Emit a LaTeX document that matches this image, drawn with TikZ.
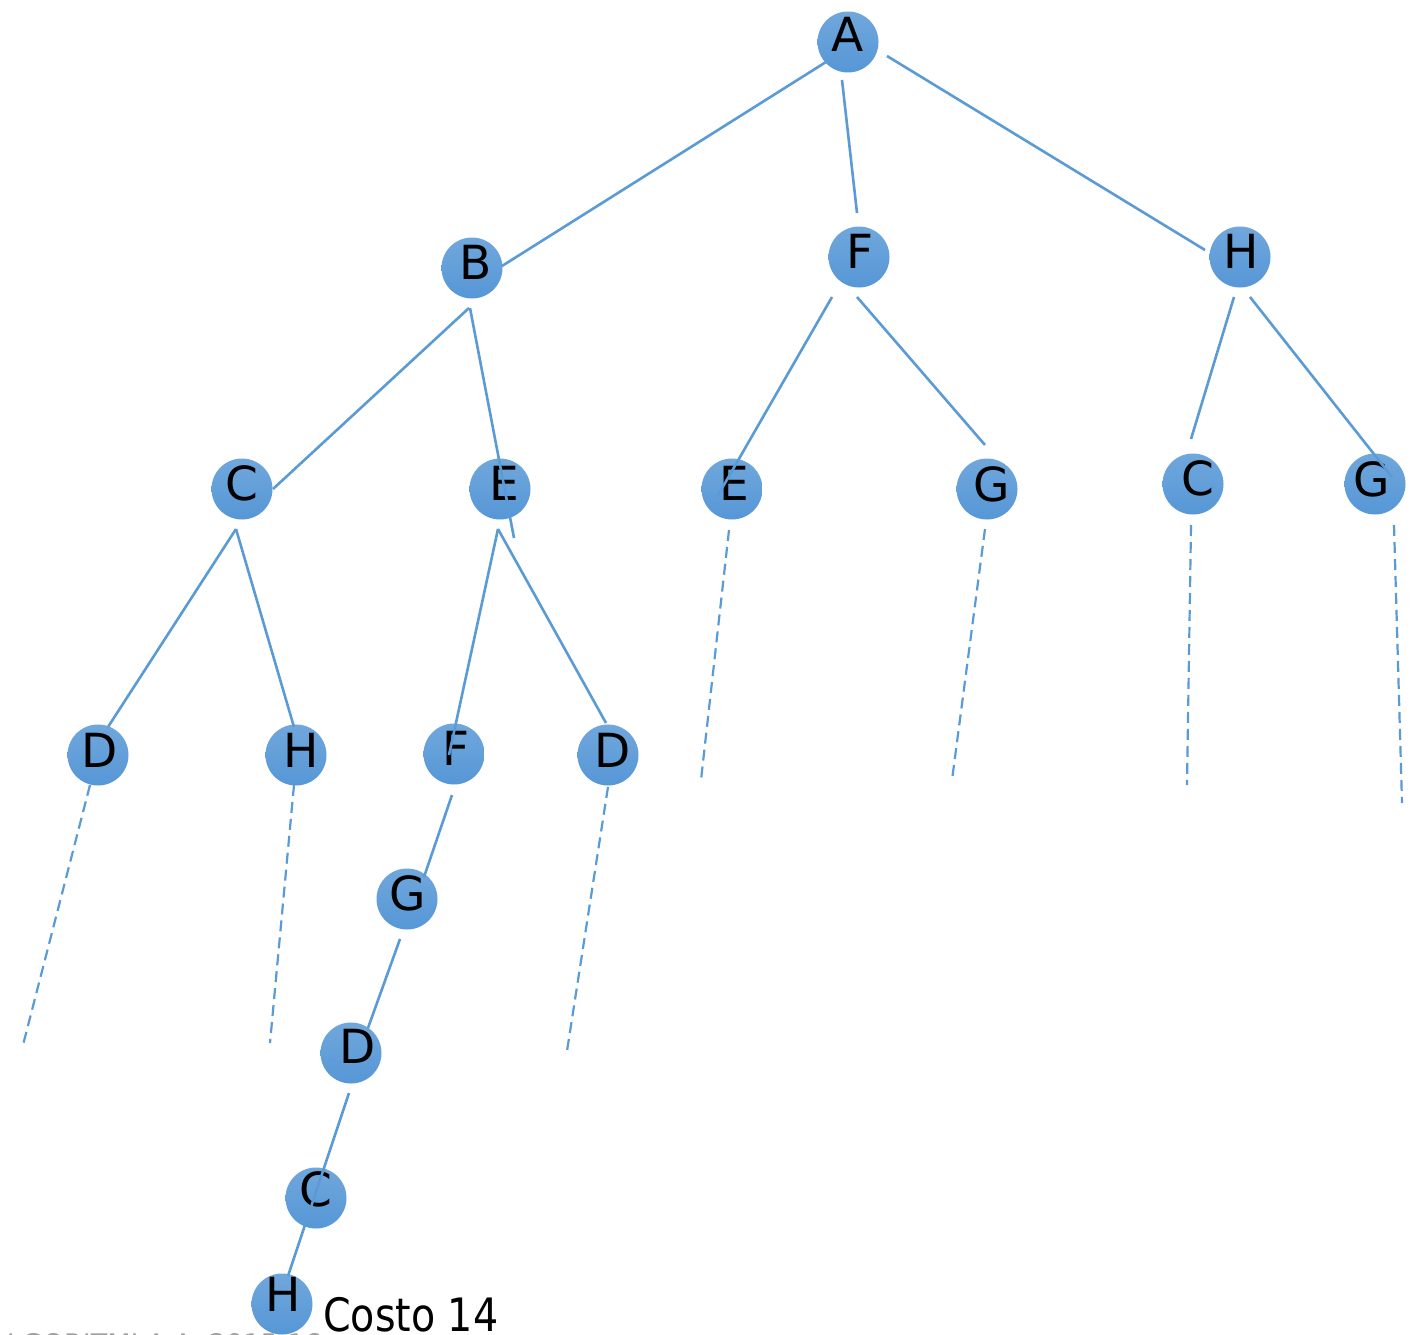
\documentclass[tikz,border=0pt]{standalone}
\usepackage{fontspec}
\setmainfont{DejaVu Sans}
\usetikzlibrary{calc}
\definecolor{tblue}{RGB}{91,155,213}
\definecolor{ttop}{RGB}{112,167,220}
\definecolor{tbot}{RGB}{86,151,214}
\definecolor{footgray}{RGB}{160,160,160}
\tikzset{
  nd/.style={circle, minimum size=61pt, inner sep=0pt, top color=ttop, bottom color=tbot, draw=none},
  lbl/.style={font=\fontsize{47}{50}\selectfont, text=black, inner sep=0pt},
  edge/.style={draw=tblue, line width=2.6pt},
  dedge/.style={draw=tblue, line width=2.2pt, dash pattern=on 11pt off 6pt},
}
\newcommand{\treenode}[5]{%
  \node[nd, label={[lbl, shift={(#4,#5)}]center:#2}] (#1) at (#3) {};}
\begin{document}
\begin{tikzpicture}[x=1pt, y=-1pt]
\useasboundingbox (0,0) rectangle (1418,1335);
\clip (0,0) rectangle (1418,1335);
\fill[white] (0,0) rectangle (1418,1335);

% nodes of the search tree
\treenode{A}{A}{848,42}{0}{-8}
\treenode{B}{B}{472,268}{4}{-6}
\treenode{F1}{F}{859,257}{1}{-6}
\treenode{H1}{H}{1240,257}{1}{-6}
\treenode{C1}{C}{242,489}{0}{-6}
\treenode{E1}{E}{500,489}{4}{-6}
\treenode{E2}{E}{732,489}{2.5}{-5.5}
\treenode{G1}{G}{987,489}{5}{-5}
\treenode{C2}{C}{1193,484}{4.5}{-5.5}
\treenode{G2}{G}{1375,484}{-3}{-4.5}
\treenode{D1}{D}{98,755}{2}{-5}
\treenode{H2}{H}{296,755}{5}{-5}
\treenode{F2}{F}{454,754}{2.5}{-5.5}
\treenode{D2}{D}{608,755}{5}{-5}
\treenode{G3}{G}{407,899}{1}{-6}
\treenode{D3}{D}{351,1053}{6.5}{-6.5}
\treenode{C3}{C}{316,1198}{0}{-9}
\treenode{H3}{H}{282,1304}{1}{-9.5}

% cost of the found path
\node[anchor=base west, inner sep=0pt, font=\fontsize{46}{50}\selectfont]
  (cost) at (323,1331) {\scalebox{0.86}[1]{Costo 14}};
% footer
\node[anchor=base east, inner sep=0pt, text=footgray, font=\fontsize{27}{30}\selectfont]
  (foot) at (322,1353) {ALGORITMI A.A. 2015-16};

% tree edges
\draw[edge] ($(A)+(-22,20)$) -- ($(B)+(30,-2)$);
\draw[edge] ($(A)+(-6,38)$) -- ($(F1)+(-2,-44)$);
\draw[edge] ($(A)+(39,14)$) -- ($(H1)+(-35,-7)$);
\draw[edge] ($(B)+(-3,40)$) -- ($(C1)+(31,0)$);
\draw[edge] ($(B)+(-2,40)$) -- ($(E1)+(14,49)$);
\draw[edge] ($(F1)+(-27,40)$) -- ($(E2)+(-15,8)$);
\draw[edge] ($(F1)+(-2,40)$) -- ($(G1)+(-2,-44)$);
\draw[edge] ($(H1)+(-6,40)$) -- ($(C2)+(-2,-45)$);
\draw[edge] ($(H1)+(10,40)$) -- ($(G2)+(17,-7)$);
\draw[edge] ($(C1)+(-6,40)$) -- ($(D1)+(10,-28)$);
\draw[edge] ($(C1)+(-6,40)$) -- ($(H2)+(-2,-28)$);
\draw[edge] ($(E1)+(-2,40)$) -- ($(F2)+(-5,1)$);
\draw[edge] ($(E1)+(-2,40)$) -- ($(D2)+(-2,-32)$);
\draw[edge] ($(F2)+(-2,41)$) -- ($(G3)+(17,-22)$);
\draw[edge] ($(G3)+(-7,40)$) -- ($(D3)+(17,-25)$);
\draw[edge] ($(D3)+(-2,40)$) -- ($(C3)+(-5,9)$);
\draw[edge] ($(C3)+(-10,24)$) -- ($(H3)+(6,-28)$);

% unexplored branches
\coordinate (e2end) at (701,780);
\coordinate (g1end) at (952,780);
\coordinate (c2end) at (1187,785);
\coordinate (g2end) at (1402,803);
\coordinate (d1end) at (23,1045);
\coordinate (h2end) at (270,1043);
\coordinate (d2end) at (567,1051);
\draw[dedge] ($(E2)+(-3,41)$) -- (e2end);
\draw[dedge] ($(G1)+(-2,40)$) -- (g1end);
\draw[dedge] ($(C2)+(-2,41)$) -- (c2end);
\draw[dedge] ($(G2)+(19,41)$) -- (g2end);
\draw[dedge] ($(D1)+(-8,30)$) -- (d1end);
\draw[dedge] ($(H2)+(-2,30)$) -- (h2end);
\draw[dedge] ($(D2)+(0,32)$) -- (d2end);
\end{tikzpicture}
\end{document}
